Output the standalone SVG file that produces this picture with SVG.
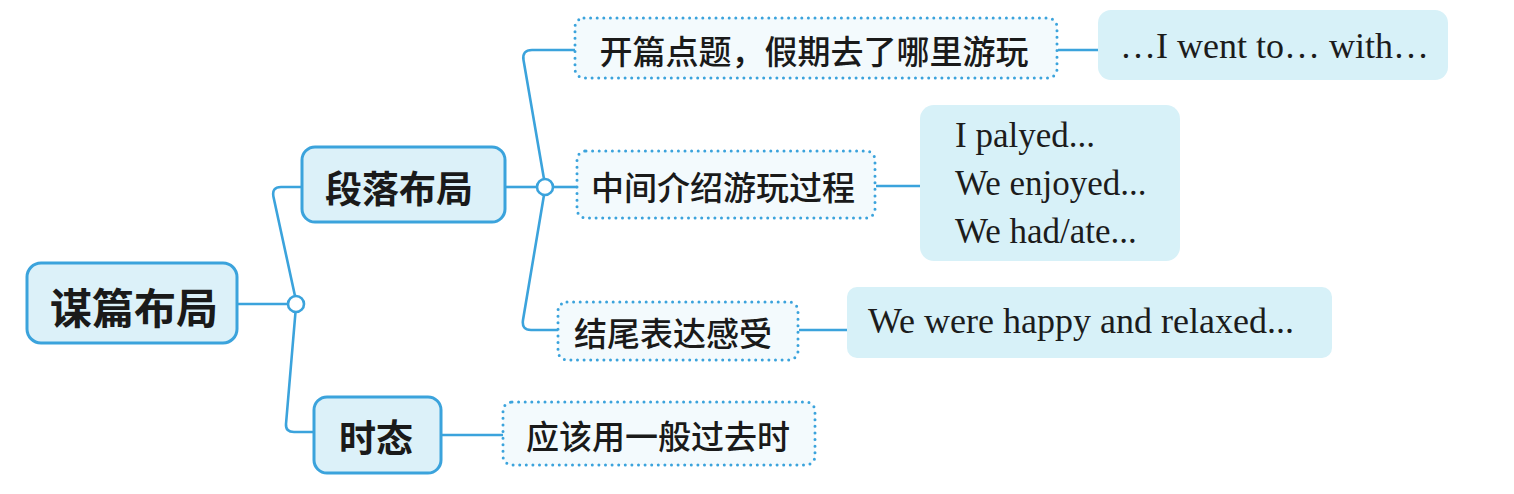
<svg xmlns="http://www.w3.org/2000/svg" width="1514" height="494" viewBox="0 0 1514 494">
<style>
.solid{fill:#dcf1f9;stroke:#3ba3dc;stroke-width:3}
.dot{fill:#f3fafd;stroke:#3ba3dc;stroke-width:3;stroke-dasharray:0 6.6;stroke-linecap:round}
.eng{fill:#d7f1f8;stroke:none}
.line{fill:none;stroke:#3ba3dc;stroke-width:2.6}
.knot{fill:#ffffff;stroke:#3ba3dc;stroke-width:2.6}
.zh{font-family:"Noto Sans CJK SC",sans-serif;fill:#1a1a1a;text-anchor:middle;dominant-baseline:central}
.zhb{font-weight:700}
.zhm{font-weight:500;font-size:33px}
.en{font-family:"Liberation Serif","Times New Roman",serif;fill:#1c1c1c}
</style>
<rect width="1514" height="494" fill="#ffffff"/>
<g id="connectors">
<path class="line" d="M237,304 L288,304"/>
<path class="line" d="M295,296 L273.5,197 Q271.5,187 281,187 L302,187"/>
<path class="line" d="M295.5,312 L286,424 Q285.5,432 294,432 L314,432"/>
<path class="line" d="M505,187 L537,187"/>
<path class="line" d="M553,187 L577,187"/>
<path class="line" d="M544,179 L523.5,60 Q522,50 532,50 L575,50"/>
<path class="line" d="M544,195 L523,320 Q521.5,330 531,330 L558,330"/>
<path class="line" d="M1058,50 L1098,50"/>
<path class="line" d="M876,186 L920,186"/>
<path class="line" d="M799,330 L847,330"/>
<path class="line" d="M441,435 L503,435"/>
<circle class="knot" cx="296" cy="304" r="8"/>
<circle class="knot" cx="545" cy="187" r="8"/>
</g>
<g id="root">
<rect class="solid" x="27" y="263" width="210" height="80" rx="14"/>
<text class="zh zhb" x="134" y="305" font-size="42">谋篇布局</text>
</g>
<g id="duanluo">
<rect class="solid" x="302" y="147" width="203" height="75" rx="13"/>
<text class="zh zhb" x="399" y="187" font-size="37">段落布局</text>
</g>
<g id="shitai">
<rect class="solid" x="314" y="397" width="127" height="76" rx="13"/>
<text class="zh zhb" x="376" y="436" font-size="37">时态</text>
</g>
<g id="kaipian">
<rect class="dot" x="575" y="18" width="482" height="60" rx="9"/>
<text class="zh zhm" x="814" y="50">开篇点题，假期去了哪里游玩</text>
</g>
<g id="zhongjian">
<rect class="dot" x="577" y="151" width="298" height="67" rx="9"/>
<text class="zh zhm" x="723" y="186">中间介绍游玩过程</text>
</g>
<g id="jiewei">
<rect class="dot" x="558" y="302" width="240" height="58" rx="9"/>
<text class="zh zhm" x="673" y="332">结尾表达感受</text>
</g>
<g id="yinggai">
<rect class="dot" x="503" y="402" width="312" height="63" rx="9"/>
<text class="zh zhm" x="658" y="435">应该用一般过去时</text>
</g>
<g id="en-went">
<rect class="eng" x="1098" y="10" width="350" height="70" rx="13"/>
<text class="en" x="1120" y="58" font-size="36">…I went to… with…</text>
</g>
<g id="en-played">
<rect class="eng" x="920" y="105" width="260" height="156" rx="14"/>
<text class="en" x="955" y="147" font-size="35">I palyed...</text>
<text class="en" x="955" y="195" font-size="35">We enjoyed...</text>
<text class="en" x="955" y="243" font-size="35">We had/ate...</text>
</g>
<g id="en-happy">
<rect class="eng" x="847" y="287" width="485" height="71" rx="10"/>
<text class="en" x="868" y="333" font-size="36">We were happy and relaxed...</text>
</g>
</svg>
